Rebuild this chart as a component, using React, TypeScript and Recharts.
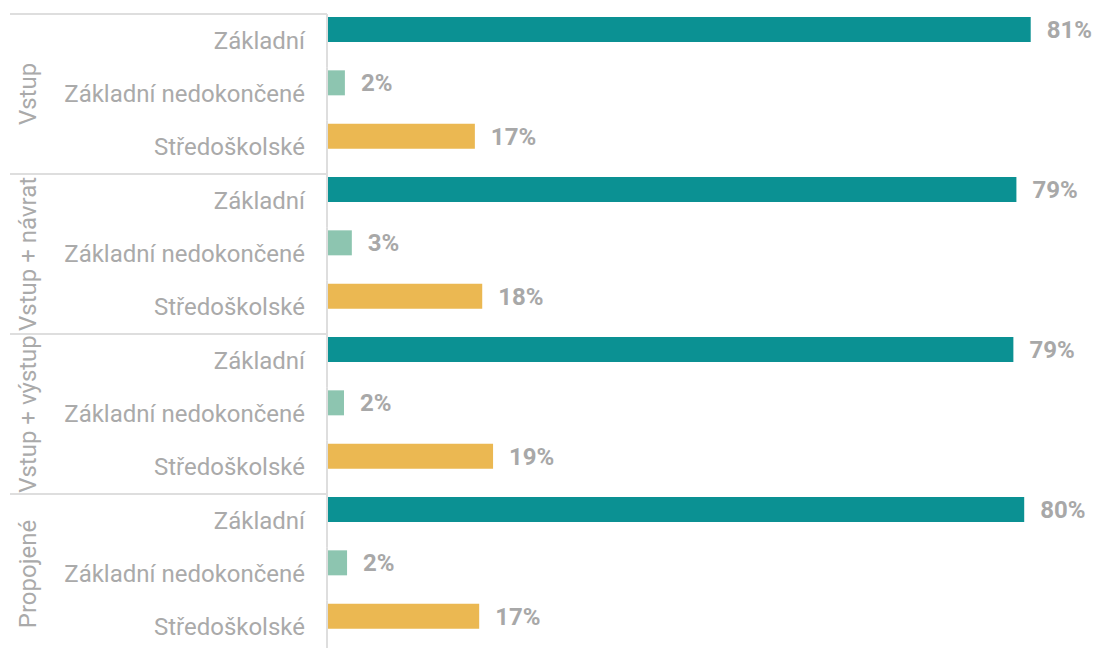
import React from 'react';
import { BarChart, Bar, XAxis, YAxis, Cell, LabelList } from 'recharts';

const groups = ['Vstup', 'Vstup + návrat', 'Vstup + výstup', 'Propojené'];
const levels = ['Základní', 'Základní nedokončené', 'Středoškolské'];
const levelColors = ['#0b9193', '#8dc5b0', '#ebb852'];

// share per group, in %
const zakladni = [81.1, 79.45, 79.1, 80.35];
const nedokoncene = [1.95, 2.75, 1.85, 2.2];
const stredoskolske = [16.95, 17.8, 19.05, 17.45];

const seriesByLevel = [zakladni, nedokoncene, stredoskolske];

const rows = groups.flatMap((group, gi) =>
  levels.map((level, li) => ({
    id: `${gi}-${li}`,
    group,
    level,
    levelIndex: li,
    value: seriesByLevel[li][gi],
  }))
);

const WIDTH = 1095;
const HEIGHT = 648;
const MARGIN = { top: 3, right: 30.5, bottom: 5, left: 0 };
const AXIS_W = 328;
const BAND = (HEIGHT - MARGIN.top - MARGIN.bottom) / rows.length;
const SHIFT = 11; // left axis sits a bit lower than the bars
const GRAY = '#aaaaaa';
const LINE = '#dedede';

const CategoryTick = (props: any) => {
  const { y, index, payload } = props;
  const row = rows.find((r) => r.id === payload.value) || rows[index];
  const top = y - BAND / 2 + SHIFT;
  const i = rows.indexOf(row);
  const groupCenter = y + SHIFT;
  return (
    <g>
      {i % 3 === 0 && <line x1={10} x2={327} y1={top} y2={top} stroke={LINE} strokeWidth={2} />}
      <line x1={327} x2={327} y1={top} y2={top + BAND} stroke={LINE} strokeWidth={2} />
      <text
        x={305}
        y={y + 10.5}
        dy="0.355em"
        textAnchor="end"
        fill={GRAY}
        fontSize={24}
        fontFamily="Roboto"
      >
        {row.level}
      </text>
      {i % 3 === 1 && (
        <text
          x={27}
          y={groupCenter}
          dy="0.355em"
          textAnchor="middle"
          fill={GRAY}
          fontSize={24}
          fontFamily="Roboto"
          transform={`rotate(-90 27 ${groupCenter})`}
        >
          {row.group}
        </text>
      )}
    </g>
  );
};

const App: React.FC = () => {
  return (
    <div style={{ position: 'absolute', left: 0, top: 0, background: '#fff' }}>
      <BarChart width={WIDTH} height={HEIGHT} data={rows} layout="vertical" margin={MARGIN}>
        <XAxis type="number" domain={[0, 85]} hide />
        <YAxis
          type="category"
          dataKey="id"
          width={AXIS_W}
          axisLine={false}
          tickLine={false}
          interval={0}
          tick={<CategoryTick />}
        />
        <Bar dataKey="value" barSize={25} isAnimationActive={false}>
          {rows.map((r) => (
            <Cell key={r.id} fill={levelColors[r.levelIndex]} />
          ))}
          <LabelList
            dataKey="value"
            position="right"
            offset={16}
            formatter={(v: any) => `${Math.round(Number(v))}%`}
            fill="#a8a8a8"
            fontSize={24}
            fontWeight="bold"
            fontFamily="Roboto"
          />
        </Bar>
      </BarChart>
    </div>
  );
};

export default App;
